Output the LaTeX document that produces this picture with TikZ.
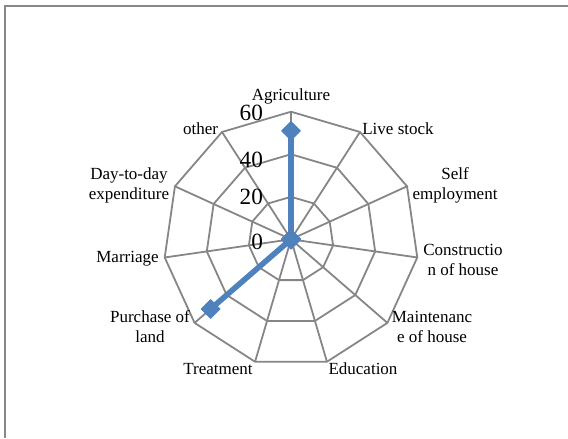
\documentclass[tikz,border=0pt]{standalone}
\usepackage{fontspec}
\setmainfont{Liberation Serif}
\usepackage{tikz}
\usetikzlibrary{plotmarks}

\definecolor{gridgray}{RGB}{134,134,134}
\definecolor{framegray}{RGB}{137,137,137}
\definecolor{seriesblue}{RGB}{79,129,189}

\begin{document}
\begin{tikzpicture}[scale=1.1253,
	grid/.style={line width=1.35pt, color=gridgray},
	data/.style={line width=4.2pt, color=seriesblue, line join=round},
	lab/.style={font=\fontsize{12.8}{15}\selectfont, inner sep=0pt, align=center},
	val/.style={font=\fontsize{17.5}{20}\selectfont, inner sep=0pt, anchor=east}]

	\useasboundingbox (-6.842,-4.672) rectangle (6.513,5.627);

	% Chart frame
	\draw[line width=1.6pt, color=framegray] (-6.725,-4.672) -- (-6.725,5.486) -- (6.513,5.486);

	% Draw grid
	\draw[grid] plot coordinates{ (90:1) (57.27:1) (24.55:1) (-8.18:1) (-40.91:1) (-73.64:1) (-106.36:1) (-139.09:1) (-171.82:1) (155.45:1) (122.73:1) } -- cycle;
	\draw[grid] plot coordinates{ (90:2) (57.27:2) (24.55:2) (-8.18:2) (-40.91:2) (-73.64:2) (-106.36:2) (-139.09:2) (-171.82:2) (155.45:2) (122.73:2) } -- cycle;
	\draw[grid] plot coordinates{ (90:3) (57.27:3) (24.55:3) (-8.18:3) (-40.91:3) (-73.64:3) (-106.36:3) (-139.09:3) (-171.82:3) (155.45:3) (122.73:3) } -- cycle;

	\draw[grid] (0,0) -- (90:3);
	\draw[grid] (0,0) -- (57.27:3);
	\draw[grid] (0,0) -- (24.55:3);
	\draw[grid] (0,0) -- (-8.18:3);
	\draw[grid] (0,0) -- (-40.91:3);
	\draw[grid] (0,0) -- (-73.64:3);
	\draw[grid] (0,0) -- (-106.36:3);
	\draw[grid] (0,0) -- (-139.09:3);
	\draw[grid] (0,0) -- (-171.82:3);
	\draw[grid] (0,0) -- (155.45:3);
	\draw[grid] (0,0) -- (122.73:3);

	% Scale values
	\node[val] (v0) at (-0.655,-0.07) {0};
	\node[val] (v20) at (-0.655,1.0) {20};
	\node[val] (v40) at (-0.655,1.87) {40};
	\node[val] (v60) at (-0.655,2.97) {60};

	% Data series
	\draw[data] plot[mark=square*, mark size=4.5pt, mark options={rotate=45, line width=0.5pt, fill=seriesblue}] coordinates{ (90:2.55) (0,0) (0,0) (0,0) (0,0) (0,0) (0,0) (-139.09:2.5) (0,0) (0,0) (0,0) } -- cycle;

	% Labels
	\node[lab] (agri) at (0,3.37) {Agriculture};
	\node[lab] (live) at (2.516,2.593) {Live stock};
	\node[lab] (self) at (3.856,1.277) {Self\\employment};
	\node[lab] (constr) at (4.044,-0.487) {Constructio\\n of house};
	\node[lab] (maint) at (3.315,-2.062) {Maintenanc\\e of house};
	\node[lab] (edu) at (1.693,-3.038) {Education};
	\node[lab] (treat) at (-1.716,-3.038) {Treatment};
	\node[lab] (land) at (-3.315,-2.062) {Purchase of\\land};
	\node[lab] (marr) at (-3.844,-0.451) {Marriage};
	\node[lab] (daily) at (-3.809,1.277) {Day-to-day\\expenditure};
	\node[lab] (other) at (-2.128,2.593) {other};

\end{tikzpicture}
\end{document}
